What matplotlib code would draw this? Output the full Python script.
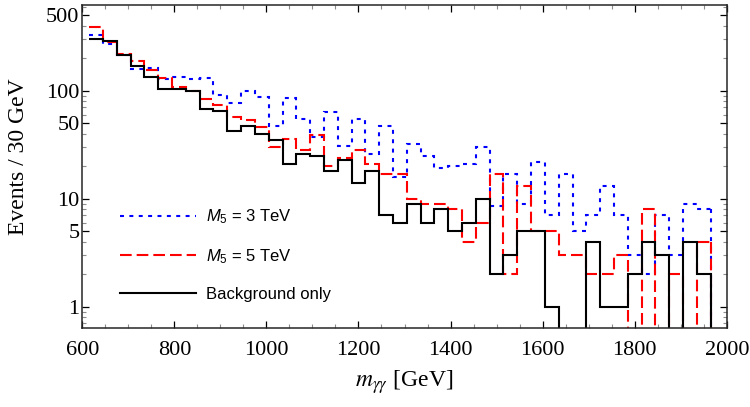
import numpy as np
import matplotlib.pyplot as plt
from matplotlib.font_manager import FontProperties
from matplotlib.lines import Line2D
from matplotlib.ticker import FixedLocator, MultipleLocator, NullFormatter

# mathtext em sans para a legenda (M_5)
plt.rcParams['mathtext.fontset'] = 'custom'
plt.rcParams['mathtext.rm'] = 'Liberation Sans'
plt.rcParams['mathtext.it'] = 'Liberation Sans:italic'

# Bins de 30 GeV
bin_start, bin_width, n_bins = 615, 30, 45
edges = bin_start + bin_width * np.arange(n_bins + 1)

# Eventos por bin
m5_3tev = [330, 270, 215, 160, 162, 128, 135, 128, 130, 92,
           77, 99, 87, 47, 86, 54, 37, 63, 31, 55,
           26, 47, 16, 32, 25, 19, 20, 21, 30, 8.5,
           17, 9, 22, 7, 17, 5, 7, 13, 7, 3,
           2, 7, 3, 9, 8]
m5_5tev = [390, 280, 218, 187, 154, 131, 108, 100, 84, 73,
           57, 53, 46, 30, 36, 28, 39, 20, 24, 28,
           21, 17, 17, 10, 9, 9, 8, 4, 6, 17,
           2, 13, 5, 5, 3, 3, 2, 2, 3, 0,
           8, 0, 2, 0, 4]
background = [300, 285, 214, 169, 134, 104, 104, 100, 67, 65,
              42, 47, 40, 35, 21, 26, 25, 18, 23, 14,
              18, 7, 6, 9, 6, 8, 5, 6, 10, 2,
              3, 5, 5, 1, 0, 0, 4, 1, 1, 2,
              4, 3, 0, 4, 2]

labels = ["$M_5$ = 3 TeV", "$M_5$ = 5 TeV", "Background only"]
colors = ["#0000ff", "#ff0000", "#000000"]
dashes = [(1.9, 2.6), (5.6, 2.4), None]

YMIN, YMAX = 0.63, 620

fig = plt.figure(figsize=(7.5, 4.07), dpi=100)
ax = fig.add_axes([0.1097, 0.1934, 0.8593, 0.7943])
ax.set_yscale('log')

handles = []
for vals, c, d, lab in zip([m5_3tev, m5_5tev, background], colors, dashes, labels):
    vals = np.asarray(vals, dtype=float)
    kw = dict(color=c, lw=1.5)
    st = ax.stairs(vals, edges, baseline=None, **kw)
    # queda final ate o eixo
    ln, = ax.plot([edges[-1], edges[-1]], [vals[-1], YMIN], **kw)
    h = Line2D([], [], **kw)
    if d is not None:
        st.set_linestyle((0, d))
        ln.set_dashes(d)
        h.set_dashes(d)
    h.set_label(lab)
    handles.append(h)

ax.set_xlim(600, 2000)
ax.set_ylim(YMIN, YMAX)

serif = 'Liberation Serif'
ax.xaxis.set_major_locator(MultipleLocator(200))
ax.xaxis.set_minor_locator(MultipleLocator(50))
ax.yaxis.set_major_locator(FixedLocator([1, 5, 10, 50, 100, 500]))
ax.yaxis.set_major_formatter(plt.FuncFormatter(lambda v, p: f"{v:g}"))
minors = [k * 10.0 ** e for e in range(-1, 3) for k in range(1, 10)]
ax.yaxis.set_minor_locator(FixedLocator(minors))
ax.yaxis.set_minor_formatter(NullFormatter())

ax.tick_params(which='both', direction='in', top=True, right=True)
ax.tick_params(which='major', length=5, width=0.9, labelsize=16)
ax.tick_params(which='minor', length=3, width=0.8, color='0.55')
ax.tick_params(axis='x', which='major', pad=9)
ax.tick_params(axis='y', which='major', pad=2)
for t in ax.get_xticklabels() + ax.get_yticklabels():
    t.set_fontfamily(serif)
for s in ax.spines.values():
    s.set_linewidth(1.1)
    s.set_color('0.15')

ax.set_xlabel(r"$m_{\gamma\gamma}$ [GeV]", fontsize=17, family=serif,
              math_fontfamily='stix')
ax.xaxis.set_label_coords(0.5, -0.125)
ax.set_ylabel("Events / 30 GeV", fontsize=17, family=serif)
ax.yaxis.set_label_coords(-0.082, 0.53)

leg = ax.legend(handles=handles, loc='upper left', bbox_to_anchor=(0.035, 0.42),
                frameon=False, handlelength=4.6, handletextpad=0.6,
                labelspacing=1.25,
                prop=FontProperties(family='Liberation Sans', size=12))

fig.savefig("out.png", dpi=100)
